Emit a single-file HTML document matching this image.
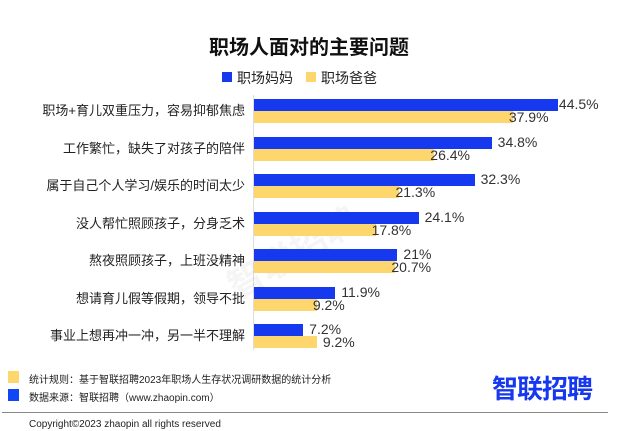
<!DOCTYPE html>
<html><head><meta charset="utf-8"><style>
body{margin:0;width:618px;height:431px;background:#fff;position:relative;overflow:hidden;font-family:"Liberation Sans","Noto Sans CJK SC",sans-serif;color:#222}
.a{position:absolute;white-space:nowrap}
.lab{position:absolute;right:373px;font-size:13px;line-height:16px;text-align:right;color:#222}
.b{position:absolute;left:254px;height:12px;background:#1638ee}
.y{position:absolute;left:254px;height:12px;background:#fdd76e}
.v{position:absolute;font-size:14px;line-height:14px;color:#333}
</style></head><body>
<div class="a" style="left:0;width:618px;text-align:center;top:31px;font-size:20px;font-weight:bold;color:#111">职场人面对的主要问题</div>
<div class="a" style="left:222px;top:72px;width:10px;height:10px;background:#1638ee"></div>
<div class="a" style="left:237px;top:68px;font-size:14px">职场妈妈</div>
<div class="a" style="left:306px;top:72px;width:10px;height:10px;background:#fdd76e"></div>
<div class="a" style="left:321px;top:68px;font-size:14px">职场爸爸</div>
<div class="a" style="left:253px;top:95px;width:1px;height:255px;background:#ddd"></div>
<div class="a" style="left:220px;top:225px;font-size:36px;color:rgba(0,0,0,0.04);transform:rotate(-30deg);font-weight:bold">智联招聘</div>
<div id="rows"></div>
<script>
var d=[["职场+育儿双重压力，容易抑郁焦虑",44.5,37.9,"44.5%","37.9%"],["工作繁忙，缺失了对孩子的陪伴",34.8,26.4,"34.8%","26.4%"],["属于自己个人学习/娱乐的时间太少",32.3,21.3,"32.3%","21.3%"],["没人帮忙照顾孩子，分身乏术",24.1,17.8,"24.1%","17.8%"],["熬夜照顾孩子，上班没精神",21,20.7,"21%","20.7%"],["想请育儿假等假期，领导不批",11.9,9.2,"11.9%","9.2%"],["事业上想再冲一冲，另一半不理解",7.2,9.2,"7.2%","9.2%"]];
var h="",k=6.83;
d.forEach(function(r,i){var c=111+i*37.5;
h+='<div class="lab" style="top:'+(c-8)+'px">'+r[0]+'</div>';
h+='<div class="b" style="top:'+(c-12)+'px;width:'+(r[1]*k)+'px"></div>';
h+='<div class="y" style="top:'+c+'px;width:'+(r[2]*k)+'px"></div>';
h+='<div class="v" style="top:'+(c-14)+'px;left:'+(254+r[1]*k+(i==0?1:6))+'px">'+r[3]+'</div>';
h+='<div class="v" style="top:'+(c-1)+'px;left:'+(254+r[2]*k+(r[2]<r[1]?-4:6))+'px">'+r[4]+'</div>';});
document.getElementById("rows").innerHTML=h;
</script>
<div class="a" style="left:8px;top:371px;width:11px;height:12px;background:#fdd76e"></div>
<div class="a" style="left:29px;top:371px;font-size:10px">统计规则：基于智联招聘2023年职场人生存状况调研数据的统计分析</div>
<div class="a" style="left:8px;top:389px;width:11px;height:12px;background:#1146f5"></div>
<div class="a" style="left:29px;top:389px;font-size:10px">数据来源：智联招聘（www.zhaopin.com）</div>
<div class="a" style="left:492px;top:369px;font-size:26px;font-weight:bold;color:#1638ee;letter-spacing:-1px">智联招聘</div>
<div class="a" style="left:2px;top:412px;width:606px;height:1px;background:#888"></div>
<div class="a" style="left:29px;top:419px;font-size:10px">Copyright©2023 zhaopin all rights reserved</div>
</body></html>
